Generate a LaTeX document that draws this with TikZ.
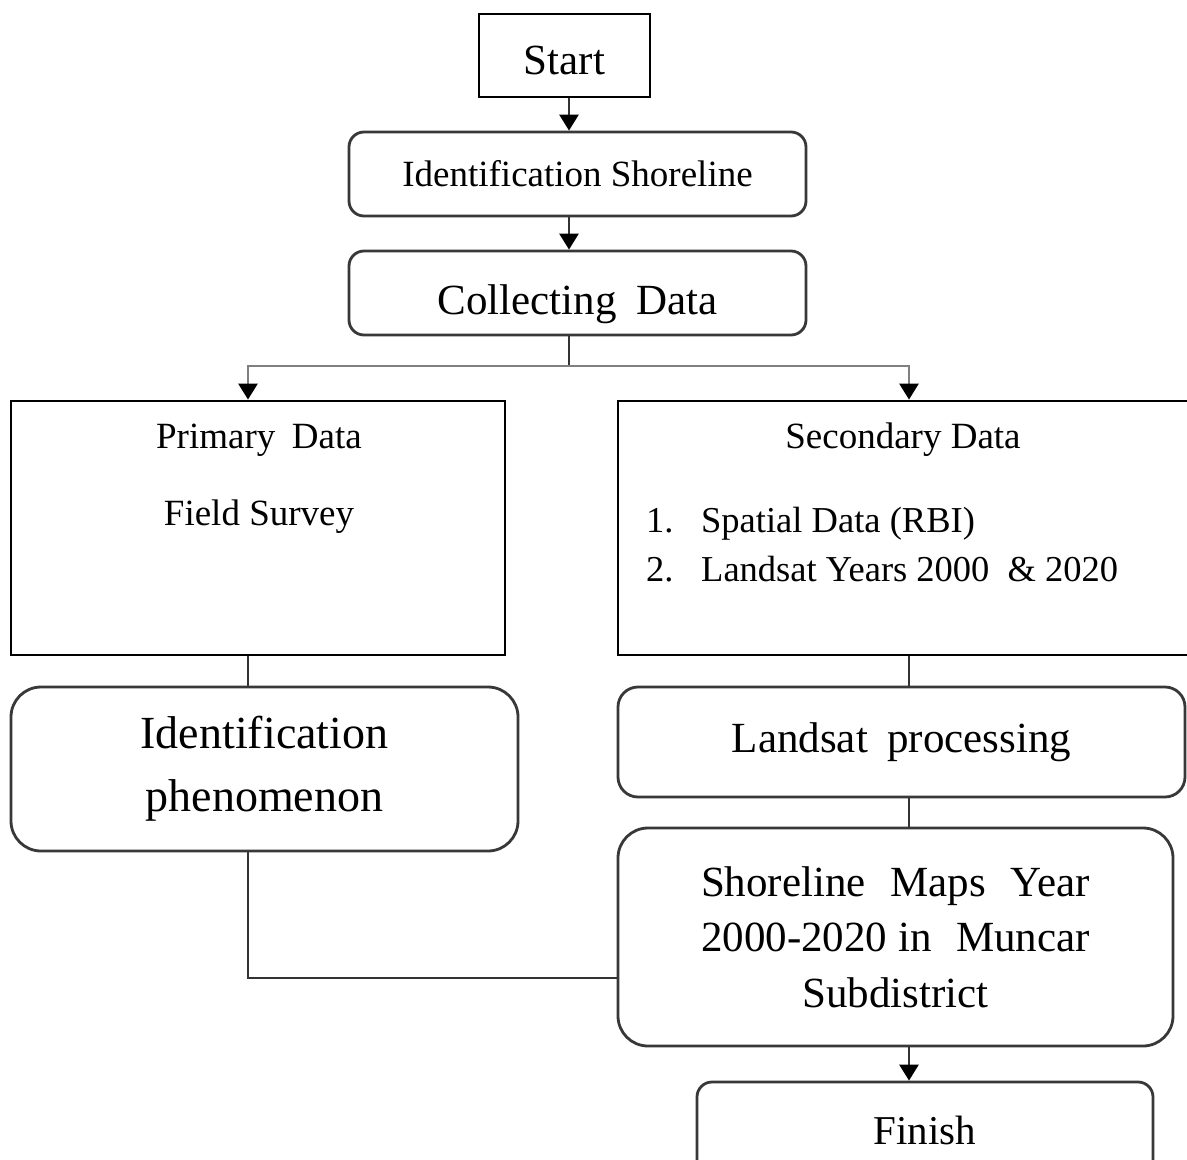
\documentclass[tikz,border=0pt]{standalone}
\usepackage{fontspec}
\setmainfont{Liberation Serif}
\usetikzlibrary{arrows.meta}
\begin{document}
\begin{tikzpicture}[x=1pt,y=-1pt,
  sq/.style={draw=black, line width=2.8pt, inner sep=0pt, align=center},
  rd/.style={draw=black!78, line width=2.8pt, rounded corners=#1, inner sep=0pt, align=center},
  txt/.style={inner sep=0pt},
  conn/.style={draw=black!80, line width=2.8pt},
  branch/.style={draw=black!50, line width=2.8pt},
  tip/.style={-{Triangle[width=19pt,length=16pt,fill=black,color=black]}},
  arr/.style={conn, tip},
  arrb/.style={branch, tip}]
\useasboundingbox (0,0) rectangle (1187,1160);
\clip (0,0) rectangle (1187,1160);
\fill[white] (0,0) rectangle (1187,1160);
% boxes
\node[sq, minimum width=171pt, minimum height=83pt, text height=45pt, text depth=7pt, font=\fontsize{43}{50}\selectfont] (start) at (564.5,55.5) {Start};
\node[rd=15pt, minimum width=457pt, minimum height=84pt, font=\fontsize{37}{44}\selectfont] (idshore) at (577.5,174) {Identification Shoreline};
\node[rd=15pt, minimum width=457pt, minimum height=84pt, text height=50pt, text depth=7pt, font=\fontsize{43}{50}\selectfont] (collect) at (577.5,293) {Collecting\hspace{0.45em}Data};
\node[sq, minimum width=494pt, minimum height=254pt] (primary) at (258,528) {};
\node[sq, minimum width=572pt, minimum height=254pt] (secondary) at (904,528) {};
\node[rd=30pt, minimum width=507pt, minimum height=164pt, font=\fontsize{46}{63}\selectfont] (idphen) at (264.5,769) {Identification\\ phenomenon};
\node[rd=20pt, minimum width=567pt, minimum height=110pt, font=\fontsize{43}{50}\selectfont] (landsat) at (901.5,742) {Landsat\hspace{0.45em}processing};
\node[rd=30pt, minimum width=555pt, minimum height=218pt, font=\fontsize{43}{55.5}\selectfont] (maps) at (895.5,937) {%
  \hbox to 389pt{Shoreline\hfill Maps\hfill Year}\\
  \hbox to 389pt{2000-2020 in\hfill Muncar}\\
  Subdistrict};
\node[rd=15pt, minimum width=456pt, minimum height=96pt, font=\fontsize{41}{48}\selectfont] (finish) at (925,1130) {Finish};
% texts inside the data boxes
\node[txt, font=\fontsize{37}{44}\selectfont] (ptitle) at (259,440) {Primary\hspace{0.45em}Data};
\node[txt, font=\fontsize{37}{44}\selectfont] (psurvey) at (259,517) {Field Survey};
\node[txt, font=\fontsize{37}{44}\selectfont] (stitle) at (903,440) {Secondary Data};
\node[txt, anchor=base west, font=\fontsize{36.5}{44}\selectfont] (n1) at (646,532) {1.};
\node[txt, anchor=base west, font=\fontsize{36.5}{44}\selectfont] (s1) at (701,532) {Spatial Data (RBI)};
\node[txt, anchor=base west, font=\fontsize{36.5}{44}\selectfont] (n2) at (646,581) {2.};
\node[txt, anchor=base west, font=\fontsize{36.5}{44}\selectfont] (s2) at (701,581) {Landsat Years 2000\hspace{0.5em}\& 2020};
% connectors
\draw[arr] ([xshift=4.5pt]start.south) -- ([xshift=4.5pt]start.south |- idshore.north);
\draw[arr] ([xshift=-8.5pt]idshore.south) -- ([xshift=-8.5pt]idshore.south |- collect.north);
\coordinate (junction) at (569,366);
\draw[conn] ([xshift=-8.5pt]collect.south) -- (junction);
\draw[arrb] (junction) -| ([xshift=-10pt]primary.north);
\draw[arrb] (junction) -| ([xshift=5pt]secondary.north);
\draw[conn] ([xshift=-10pt]primary.south) -- ([xshift=-10pt]primary.south |- idphen.north);
\draw[conn] ([xshift=-16.5pt]idphen.south) |- ([yshift=-41pt]maps.west);
\draw[conn] ([xshift=5pt]secondary.south) -- ([xshift=5pt]secondary.south |- landsat.north);
\draw[conn] ([xshift=7.5pt]landsat.south) -- ([xshift=7.5pt]landsat.south |- maps.north);
\draw[arr] ([xshift=13.5pt]maps.south) -- ([xshift=13.5pt]maps.south |- finish.north);
\end{tikzpicture}
\end{document}
